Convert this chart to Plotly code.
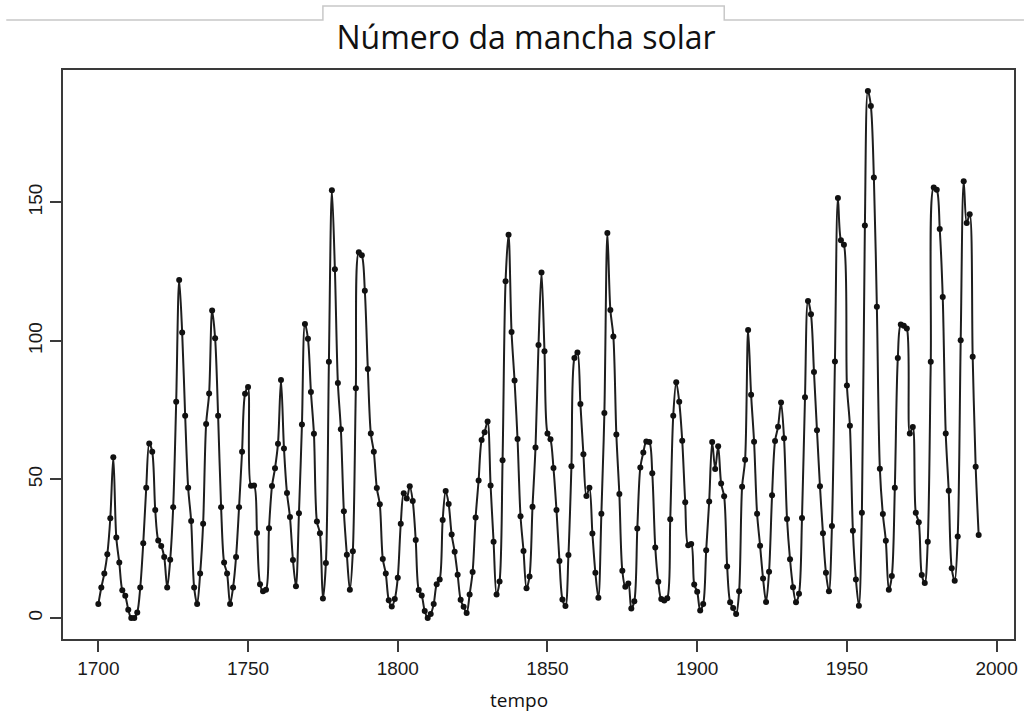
# Annual sunspot number, 1700-1994
# line + points chart with an R-like boxed frame

import plotly.graph_objects as go

# ---- data ----
first_year = 1700

sunspots_1700s = [
    5, 11, 16, 23, 36, 58, 29, 20, 10, 8,
    3, 0, 0, 2, 11, 27, 47, 63, 60, 39,
    28, 26, 22, 11, 21, 40, 78, 122, 103, 73,
    47, 35, 11, 5, 16, 34, 70, 81, 111, 101,
    73, 40, 20, 16, 5, 11, 22, 40, 60, 80.9,
    83.4, 47.7, 47.8, 30.7, 12.2, 9.6, 10.2, 32.4, 47.6, 54,
    62.9, 85.9, 61.2, 45.1, 36.4, 20.9, 11.4, 37.8, 69.8, 106.1,
    100.8, 81.6, 66.5, 34.8, 30.6, 7, 19.8, 92.5, 154.4, 125.9,
    84.8, 68.1, 38.5, 22.8, 10.2, 24.1, 82.9, 132, 130.9, 118.1,
    89.9, 66.6, 60, 46.9, 41, 21.3, 16, 6.4, 4.1, 6.8,
]
sunspots_1800s = [
    14.5, 34, 45, 43.1, 47.5, 42.2, 28.1, 10.1, 8.1, 2.5,
    0, 1.4, 5, 12.2, 13.9, 35.4, 45.8, 41.1, 30.1, 23.9,
    15.6, 6.6, 4, 1.8, 8.5, 16.6, 36.3, 49.6, 64.2, 67,
    70.9, 47.8, 27.5, 8.5, 13.2, 56.9, 121.5, 138.3, 103.2, 85.7,
    64.6, 36.7, 24.2, 10.7, 15, 40.1, 61.5, 98.5, 124.7, 96.3,
    66.6, 64.5, 54.1, 39, 20.6, 6.7, 4.3, 22.7, 54.8, 93.8,
    95.8, 77.2, 59.1, 44, 47, 30.5, 16.3, 7.3, 37.6, 74,
    139, 111.2, 101.6, 66.2, 44.7, 17, 11.3, 12.4, 3.4, 6,
    32.3, 54.3, 59.7, 63.7, 63.5, 52.2, 25.4, 13.1, 6.8, 6.3,
    7.1, 35.6, 73, 85.1, 78, 64, 41.8, 26.2, 26.7, 12.1,
]
sunspots_1900s = [
    9.5, 2.7, 5, 24.4, 42, 63.5, 53.8, 62, 48.5, 43.9,
    18.6, 5.7, 3.6, 1.4, 9.6, 47.4, 57.1, 103.9, 80.6, 63.6,
    37.6, 26.1, 14.2, 5.8, 16.7, 44.3, 63.9, 69, 77.8, 64.9,
    35.7, 21.2, 11.1, 5.7, 8.7, 36.1, 79.7, 114.4, 109.6, 88.8,
    67.8, 47.5, 30.6, 16.3, 9.6, 33.2, 92.6, 151.6, 136.3, 134.7,
    83.9, 69.4, 31.5, 13.9, 4.4, 38, 141.7, 190.2, 184.8, 159,
    112.3, 53.9, 37.5, 27.9, 10.2, 15.1, 47, 93.8, 105.9, 105.5,
    104.5, 66.6, 68.9, 38, 34.5, 15.5, 12.6, 27.5, 92.5, 155.4,
    154.6, 140.4, 115.9, 66.6, 45.9, 17.9, 13.4, 29.4, 100.2, 157.6,
    142.6, 145.7, 94.3, 54.6, 29.9,
]

x_ticks = [1700, 1750, 1800, 1850, 1900, 1950, 2000]
y_ticks = [0, 50, 100, 150]

values = sunspots_1700s + sunspots_1800s + sunspots_1900s
years = [first_year + i for i in range(len(values))]

# ---- figure ----
fig = go.Figure()
fig.add_trace(go.Scatter(
    x = years,
    y = values,
    mode = "lines+markers",
    line = dict(color="#1e1e1e", width=2, shape="spline", smoothing=0.9),
    marker = dict(color="#111111", size=6),
    showlegend = False,
))

axis_common = dict(
    showline  = True,
    mirror    = True,
    linecolor = "#3a3a3a",
    linewidth = 2,
    showgrid  = False,
    zeroline  = False,
    ticks     = "outside",
    ticklen   = 11,
    tickwidth = 2,
    tickcolor = "#3a3a3a",
    tickfont  = dict(family="Liberation Sans, Arial", size=19, color="#1a1a1a"),
)

fig.update_xaxes(range=[1688.2, 2005.8], tickvals=x_ticks, **axis_common)
fig.update_yaxes(range=[-7.6, 197.8], tickvals=y_ticks, tickangle=-90, **axis_common)

# page pixel -> paper coordinate helpers (plot area is 63..1018 x 70..639)
def px_x(p):
    return (p - 63) / 955

def px_y(p):
    return (639 - p) / 569

# gray tab lines above the title (screenshot frame)
tab_path = (
    f"M {px_x(6)} {px_y(20)} L {px_x(324)} {px_y(20)} L {px_x(324)} {px_y(6)} "
    f"L {px_x(727)} {px_y(6)} L {px_x(727)} {px_y(20)} L {px_x(1028)} {px_y(20)}"
)
fig.add_shape(type="path", path=tab_path, xref="paper", yref="paper",
              line=dict(color="#c8c8c8", width=1.5))

fig.add_annotation(
    text = "tempo", x = px_x(521), y = px_y(700),
    xref = "paper", yref = "paper", showarrow = False,
    xanchor = "center", yanchor = "middle",
    font = dict(family="Open Sans", size=19, color="#111111"),
)

fig.update_layout(
    width  = 1028,
    height = 716,
    margin = dict(l=63, r=10, t=70, b=77),
    plot_bgcolor  = "white",
    paper_bgcolor = "white",
    title = dict(
        text = "Número da mancha solar",
        x = 526 / 1028, xanchor = "center",
        y = 1 - 38 / 716, yanchor = "middle", yref = "container",
        font = dict(family="Open Sans", size=32, color="#111111"),
    ),
)

# drop the default body margin so the figure sits at the page corner
fig.write_html(
    "out.html",
    config = {"displayModeBar": False},
    post_script = "document.body.style.margin = '0';",
)
